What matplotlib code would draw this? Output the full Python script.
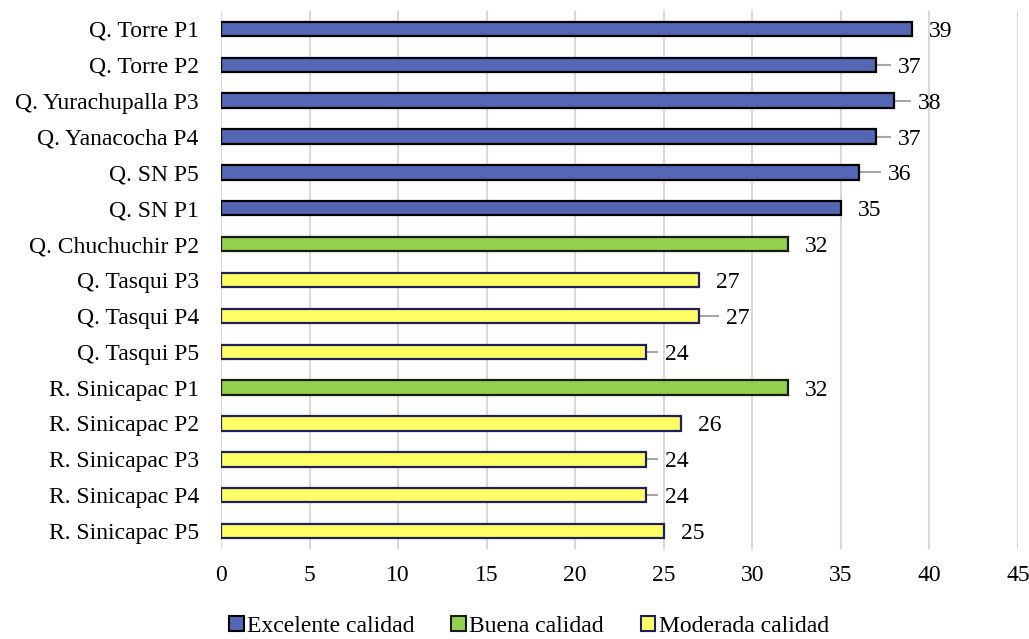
import matplotlib.pyplot as plt
from matplotlib.patches import Patch

plt.rcParams['font.family'] = ['Liberation Serif', 'DejaVu Serif']

sites = ['Q. Torre P1', 'Q. Torre P2', 'Q. Yurachupalla P3', 'Q. Yanacocha P4',
         'Q. SN P5', 'Q. SN P1', 'Q. Chuchuchir P2', 'Q. Tasqui P3',
         'Q. Tasqui P4', 'Q. Tasqui P5', 'R. Sinicapac P1', 'R. Sinicapac P2',
         'R. Sinicapac P3', 'R. Sinicapac P4', 'R. Sinicapac P5']
scores = [39, 37, 38, 37, 36, 35, 32, 27, 27, 24, 32, 26, 24, 24, 25]
quality = ['Excelente', 'Excelente', 'Excelente', 'Excelente', 'Excelente',
           'Excelente', 'Buena', 'Moderada', 'Moderada', 'Moderada', 'Buena',
           'Moderada', 'Moderada', 'Moderada', 'Moderada']

# fill / edge per class
styles = {
    'Excelente': ('#5566B4', '#000000', 'Excelente calidad'),
    'Buena': ('#92D050', '#1a1a1a', 'Buena calidad'),
    'Moderada': ('#FFFF66', '#1F1F5A', 'Moderada calidad'),
}

# extra label offset (pixels) where a leader line is drawn
leader = {1: 22, 2: 24, 3: 22, 4: 29, 8: 27, 9: 19, 12: 19, 13: 19}

FS = 17

fig = plt.figure(figsize=(10.29, 6.39), dpi=100)
ax = fig.add_axes([0.2148, 0.1408, 0.7745, 0.842])

ypos = list(range(len(sites)))
for i, (s, q) in enumerate(zip(scores, quality)):
    fc, ec, _ = styles[q]
    ax.barh(i, s, height=0.4, color=fc, edgecolor=ec, linewidth=1.6, zorder=3)

px = 797 / 45  # pixels per unit
for i, s in enumerate(scores):
    off = leader.get(i, 17)
    if i in leader:
        ax.plot([s, s + (off - 7) / px], [i, i], color='#A6A6A6', lw=1.5,
                zorder=2, solid_capstyle='butt')
    ax.text(s + off / px, i, str(s), va='center_baseline', ha='left', fontsize=FS)

ax.set_ylim(len(sites) - 0.5, -0.5)
ax.set_xlim(0, 45)
ax.set_xticks(range(0, 46, 5))
ax.set_yticks(ypos)
ax.set_yticklabels(sites)
ax.tick_params(axis='both', length=0, labelsize=FS)
ax.tick_params(axis='x', pad=11.5)
ax.tick_params(axis='y', pad=16)
ax.grid(axis='x', color='#D9D9D9', lw=1.5, zorder=0)
for sp in ax.spines.values():
    sp.set_visible(False)

handles = [Patch(facecolor=fc, edgecolor=ec, linewidth=1.5, label=lab)
           for fc, ec, lab in styles.values()]
fig.legend(handles=handles, loc='center', bbox_to_anchor=(0.514, 0.02), ncol=3,
           frameon=False, fontsize=FS, handlelength=0.62, handleheight=0.62,
           handletextpad=0.13, columnspacing=1.57, borderpad=0)

fig.savefig('out.png', dpi=100)
